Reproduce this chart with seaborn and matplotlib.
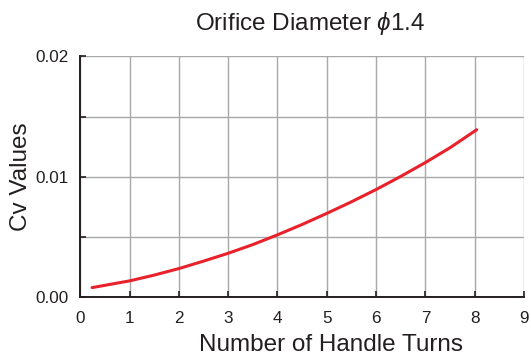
import matplotlib
matplotlib.use("Agg")
import matplotlib.pyplot as plt
from matplotlib.ticker import MultipleLocator, FormatStrFormatter
import seaborn as sns
import pandas as pd

# Flow coefficient vs. handle turns
turns = [0.24, 1, 1.5, 2, 2.5, 3, 3.5, 4, 4.5, 5, 5.5, 6, 6.5, 7, 7.5, 8.04]
cv_values = [0.00082, 0.00138, 0.00186, 0.0024, 0.00302, 0.00367, 0.00439, 0.0052,
             0.00606, 0.00698, 0.00794, 0.00896, 0.01005, 0.0112, 0.01243, 0.01392]

title = "Orifice Diameter $\\phi$1.4"
x_label = "Number of Handle Turns"
y_label = "Cv Values"

sns.set_theme(style="white")
plt.rcParams["font.family"] = ["Liberation Sans", "DejaVu Sans"]
plt.rcParams["mathtext.fontset"] = "custom"
plt.rcParams["mathtext.it"] = "Liberation Sans:italic"

df = pd.DataFrame({"turns": turns, "cv": cv_values})

fig = plt.figure(figsize=(5.31, 3.58), dpi=100)
ax = fig.add_axes([0.1512, 0.169, 0.8356, 0.6732])

sns.lineplot(data=df, x="turns", y="cv", ax=ax, color="#e8212b", linewidth=2.2, zorder=3)

ax.set_xlim(0, 9)
ax.set_ylim(0, 0.02)
ax.xaxis.set_major_locator(MultipleLocator(1))
ax.yaxis.set_major_locator(MultipleLocator(0.01))
ax.yaxis.set_minor_locator(MultipleLocator(0.005))
ax.yaxis.set_major_formatter(FormatStrFormatter("%.2f"))

ax.grid(True, which="both", color="#a8a8a8", linewidth=1.0)
ax.set_axisbelow(True)

for side in ("top", "right"):
    ax.spines[side].set_visible(False)
for side in ("left", "bottom"):
    ax.spines[side].set_color("#231f20")
    ax.spines[side].set_linewidth(1.4)

ax.tick_params(axis="both", which="both", direction="in", length=4, width=1.2,
               color="#231f20", labelsize=12.3, labelcolor="#231f20",
               left=True, bottom=True)
ax.tick_params(axis="x", pad=9.5)
ax.tick_params(axis="y", pad=8.5)

ax.set_xlabel(x_label, fontsize=17.5, color="#231f20", labelpad=6, x=0.566)
ax.set_ylabel(y_label, fontsize=17.5, color="#231f20", labelpad=2)
ax.set_title(title, fontsize=17.5, color="#231f20", pad=19, x=0.518)

fig.savefig("out.png", dpi=100)
